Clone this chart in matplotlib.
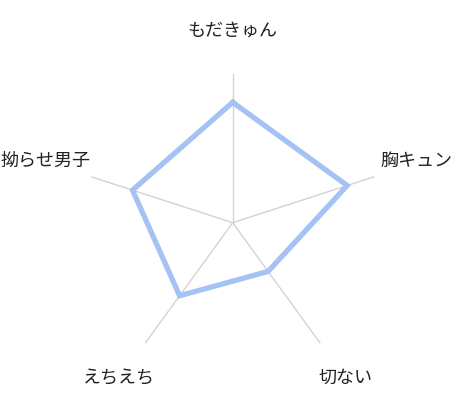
import numpy as np
import matplotlib
matplotlib.use("Agg")
import matplotlib.pyplot as plt

plt.rcParams['font.family'] = ['Noto Sans CJK JP', 'DejaVu Sans']

categories = ["もだきゅん", "胸キュン", "切ない", "えちえち", "拗らせ男子"]
values = [4, 4, 2, 3, 3.5]
r_max = 4.95

# label placement: (offset px from spoke end, ha)
label_offsets = [((0, 43), 'center'), ((6, 16), 'left'), ((25, -35), 'center'),
                 ((-26, -35), 'center'), ((0, 16), 'right')]


def plot_radar():
    fig = plt.figure(figsize=(4.63, 4.07), dpi=100)
    ax = fig.add_axes([0.1808, 0.0867, 0.6436, 0.7322], projection='polar')
    ax.set_theta_offset(np.pi / 2)
    ax.set_theta_direction(-1)

    angles = np.linspace(0, 2 * np.pi, len(categories), endpoint=False)
    ax.set_xticks(angles)
    ax.set_xticklabels([])
    ax.set_yticks([])
    ax.set_ylim(0, r_max)
    ax.xaxis.grid(True, color='#d3d3d3', linewidth=1.0)
    ax.yaxis.grid(False)
    ax.spines['polar'].set_visible(False)
    ax.patch.set_alpha(0)

    th = np.append(angles, angles[0])
    vv = values + values[:1]
    ax.plot(th, vv, color='#a4c2f4', linewidth=3.8, solid_joinstyle='miter')

    for a, name, (off, ha) in zip(angles, categories, label_offsets):
        ax.annotate(name, xy=(a, r_max), xytext=off, textcoords='offset pixels',
                    ha=ha, va='center', fontsize=13, color='#222222',
                    annotation_clip=False)

    fig.savefig('out.png', dpi=100)
    plt.close(fig)


plot_radar()
